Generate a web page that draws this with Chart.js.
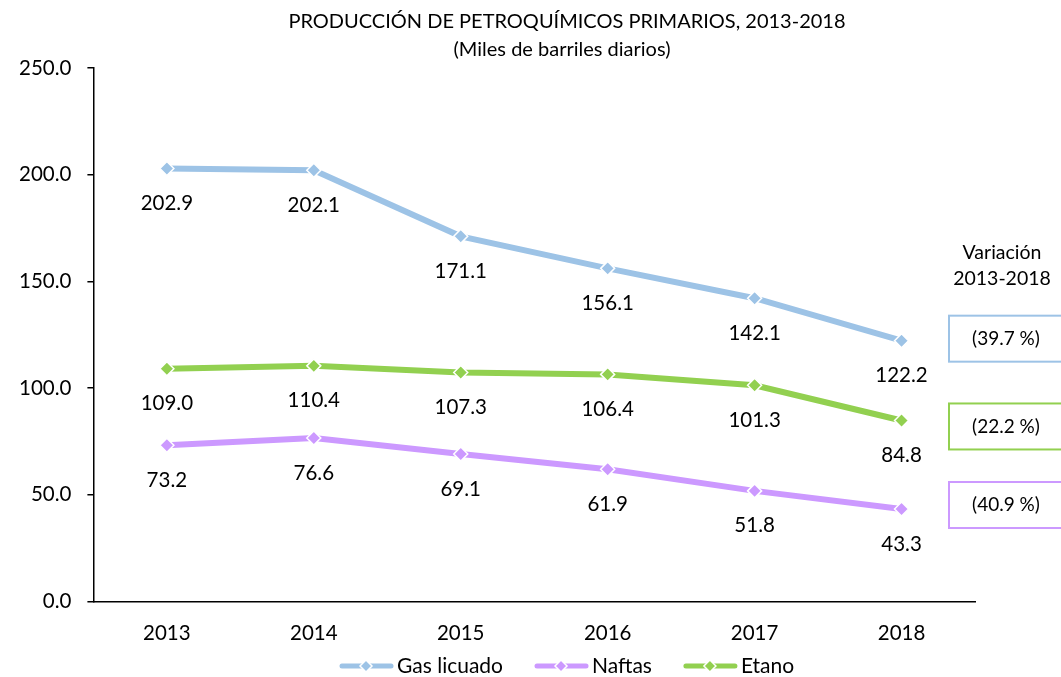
<!DOCTYPE html>
<html>
<head>
<meta charset="utf-8">
<script src="https://cdn.jsdelivr.net/npm/chart.js@4.4.1/dist/chart.umd.min.js"></script>
<style>
  html, body { margin: 0; padding: 0; background: #fff; }
  #wrap { width: 1061px; height: 677px; position: relative; }
</style>
</head>
<body>
<div id="wrap"><canvas id="chart"></canvas></div>
<script>
const years = ['2013', '2014', '2015', '2016', '2017', '2018'];
const gasLicuado = [202.9, 202.1, 171.1, 156.1, 142.1, 122.2];
const naftas = [73.2, 76.6, 69.1, 61.9, 51.8, 43.3];
const etano = [109.0, 110.4, 107.3, 106.4, 101.3, 84.8];
// 2013-2018 change, same order as the series: gas, naftas, etano
const variacion = ['(39.7 %)', '(40.9 %)', '(22.2 %)'];
const titleLines = ['PRODUCCIÓN DE PETROQUÍMICOS PRIMARIOS, 2013-2018', '(Miles de barriles diarios)'];
const variacionTitle = ['Variación', '2013-2018'];

const FONT = 'Lato, "Open Sans", sans-serif';
const blue = '#9dc3e6';
const purple = '#cc99ff';
const green = '#92d050';

function drawDiamond(ctx, x, y, r, fill) {
    ctx.beginPath();
    ctx.moveTo(x, y - r);
    ctx.lineTo(x + r, y);
    ctx.lineTo(x, y + r);
    ctx.lineTo(x - r, y);
    ctx.closePath();
    ctx.fillStyle = fill;
    ctx.fill();
    ctx.lineWidth = 1.5;
    ctx.strokeStyle = '#fff';
    ctx.stroke();
}

const extras = {
    id: 'extras',
    afterDatasetsDraw(chart) {
        const ctx = chart.ctx;
        ctx.save();
        ctx.fillStyle = '#000';
        ctx.textAlign = 'center';
        ctx.textBaseline = 'middle';
        ctx.font = '20.5px ' + FONT;
        chart.data.datasets.forEach((ds, i) => {
            chart.getDatasetMeta(i).data.forEach((pt, j) => {
                ctx.fillText(ds.data[j].toFixed(1), pt.x, pt.y + 35);
            });
        });
        ctx.restore();
    },
    afterDraw(chart) {
        const ctx = chart.ctx;
        const area = chart.chartArea;
        ctx.save();
        ctx.fillStyle = '#000';
        ctx.textAlign = 'center';
        ctx.textBaseline = 'middle';

        // title
        ctx.font = '20px ' + FONT;
        ctx.fillText(titleLines[0], 567, 22);
        ctx.fillText(titleLines[1], 562, 50);

        // variation header and boxes
        ctx.font = '19.5px ' + FONT;
        ctx.fillText(variacionTitle[0], 1002, 253);
        ctx.fillText(variacionTitle[1], 1002, 279);
        ctx.font = '19px ' + FONT;
        const boxX = area.right - 26;
        const shift = [-2, -4, 6];
        chart.data.datasets.forEach((ds, i) => {
            const meta = chart.getDatasetMeta(i);
            const last = meta.data[meta.data.length - 1];
            const cy = last.y + shift[i];
            ctx.lineWidth = 2;
            ctx.strokeStyle = ds.borderColor;
            ctx.strokeRect(boxX, cy - 23, 120, 46);
            ctx.fillStyle = '#000';
            ctx.fillText(variacion[i], boxX + 57, cy);
        });

        // legend
        ctx.font = '21px ' + FONT;
        ctx.textAlign = 'left';
        let x = 339;
        const ly = 666;
        chart.data.datasets.forEach((ds) => {
            ctx.lineCap = 'round';
            ctx.lineWidth = 5;
            ctx.strokeStyle = ds.borderColor;
            ctx.beginPath();
            ctx.moveTo(x + 3, ly);
            ctx.lineTo(x + 52, ly);
            ctx.stroke();
            drawDiamond(ctx, x + 27, ly, 6, ds.borderColor);
            ctx.fillStyle = '#000';
            ctx.fillText(ds.label, x + 58, ly);
            x += 58 + ctx.measureText(ds.label).width + 31;
        });
        ctx.restore();
    }
};

function series(label, data, color) {
    return {
        label: label,
        data: data,
        borderColor: color,
        backgroundColor: color,
        borderWidth: 6,
        pointStyle: 'rectRot',
        pointRadius: 7,
        pointHoverRadius: 7,
        pointBorderColor: '#fff',
        pointBorderWidth: 1.5,
        pointBackgroundColor: color,
        tension: 0,
        fill: false
    };
}

new Chart(document.getElementById('chart'), {
    type: 'line',
    data: {
        labels: years,
        datasets: [
            series('Gas licuado', gasLicuado, blue),
            series('Naftas', naftas, purple),
            series('Etano', etano, green)
        ]
    },
    options: {
        responsive: true,
        maintainAspectRatio: false,
        animation: false,
        layout: { padding: { top: 68, right: 86, bottom: 11, left: 3 } },
        plugins: {
            legend: { display: false },
            title: { display: false },
            tooltip: { enabled: false }
        },
        scales: {
            x: {
                offset: true,
                grid: { display: false, drawTicks: false },
                border: { display: true, color: '#000', width: 1.5 },
                ticks: { color: '#000', font: { family: FONT, size: 20.5 }, padding: 20 }
            },
            y: {
                min: 0,
                max: 250,
                grid: { drawOnChartArea: false, drawTicks: true, tickLength: 6, color: '#000', lineWidth: 1.5 },
                border: { display: true, color: '#000', width: 1.5 },
                ticks: {
                    stepSize: 50,
                    color: '#000',
                    padding: 16,
                    font: { family: FONT, size: 20.5 },
                    callback: (v) => v.toFixed(1)
                }
            }
        }
    },
    plugins: [extras]
});
</script>
</body>
</html>
